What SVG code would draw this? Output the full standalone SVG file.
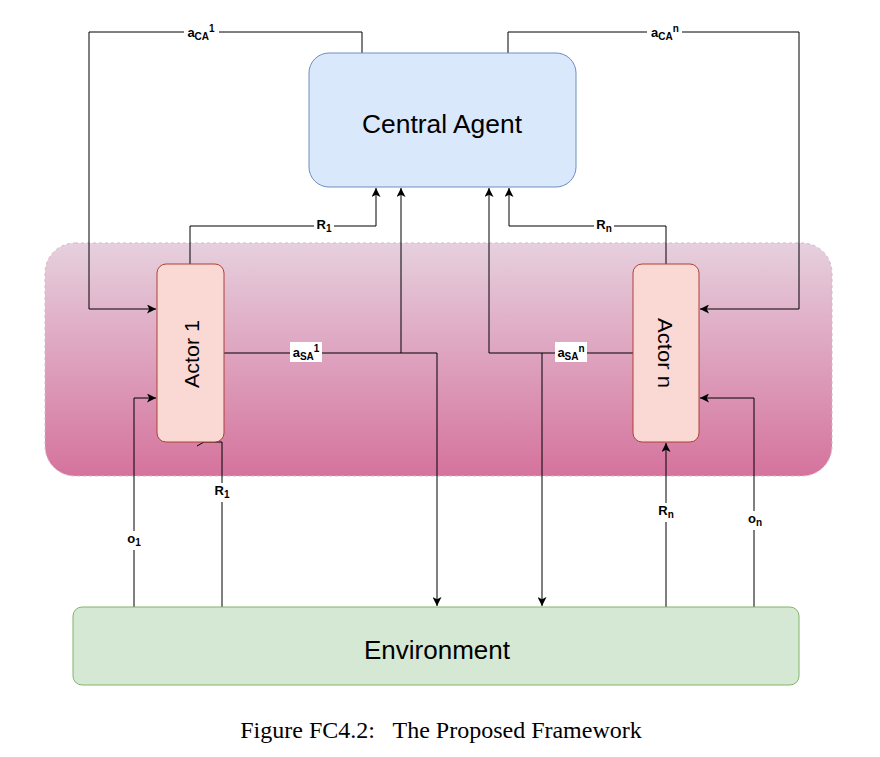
<svg xmlns="http://www.w3.org/2000/svg" width="880" height="757" viewBox="0 0 880 757">
<style>
.ln{fill:none;stroke:#000;stroke-width:1}
.lbl{font-family:"Liberation Sans",Arial,sans-serif;font-size:13px;font-weight:bold;fill:#000}
.bg{fill:#fff}
.node{font-family:"Liberation Sans",Arial,sans-serif;fill:#000}
</style>
<defs>
<linearGradient id="grad" x1="0" y1="0" x2="0" y2="1">
<stop offset="0" stop-color="#e6d0de"/>
<stop offset="1" stop-color="#d5739d"/>
</linearGradient>
<marker id="arr" viewBox="0 0 10 10" refX="10" refY="5" markerWidth="9" markerHeight="9" markerUnits="userSpaceOnUse" orient="auto">
<path d="M0,0 L10,5 L0,10 L2.5,5 z" fill="#000"/>
</marker>
</defs>
<rect width="880" height="757" fill="#fff"/>
<g id="container">
<rect x="45" y="243" width="787" height="233" rx="30" fill="url(#grad)" stroke="#d8b4c8" stroke-dasharray="3 3"/>
</g>
<g id="connectors">
<path class="ln" d="M362,53 V32 H89 V309 H156" marker-end="url(#arr)"/>
<path class="ln" d="M508,53 V32 H799 V309 H700" marker-end="url(#arr)"/>
<path class="ln" d="M190,264 V226 H376 V188" marker-end="url(#arr)"/>
<path class="ln" d="M666,264 V226 H509 V188" marker-end="url(#arr)"/>
<path class="ln" d="M224,353 H437 V606" marker-end="url(#arr)"/>
<path class="ln" d="M401,353 V188" marker-end="url(#arr)"/>
<path class="ln" d="M633,353 H489 V188" marker-end="url(#arr)"/>
<path class="ln" d="M542,353 V606" marker-end="url(#arr)"/>
<path class="ln" d="M134,607 V398 H156" marker-end="url(#arr)"/>
<path class="ln" d="M222,607 V442 H204 L197,446" />
<path class="ln" d="M666,607 V443" marker-end="url(#arr)"/>
<path class="ln" d="M754,607 V398 H700" marker-end="url(#arr)"/>
</g>
<g id="central-agent">
<rect x="309" y="53" width="267" height="134" rx="20" fill="#dae8fc" stroke="#6c8ebf"/>
<text class="node" x="442" y="133" font-size="25" text-anchor="middle" textLength="160" lengthAdjust="spacingAndGlyphs">Central Agent</text>
</g>
<g id="actor-1">
<rect x="157" y="264" width="67" height="178" rx="9" fill="#fad9d5" stroke="#ae4132"/>
<text class="node" transform="translate(199,354) rotate(-90)" font-size="21" text-anchor="middle" textLength="68" lengthAdjust="spacingAndGlyphs">Actor 1</text>
</g>
<g id="actor-n">
<rect x="633" y="264" width="66" height="178" rx="9" fill="#fad9d5" stroke="#ae4132"/>
<text class="node" transform="translate(658,353) rotate(90)" font-size="21" text-anchor="middle" textLength="70" lengthAdjust="spacingAndGlyphs">Actor n</text>
</g>
<g id="environment">
<rect x="73" y="607" width="726" height="78" rx="9" fill="#d5e8d4" stroke="#82b366"/>
<text class="node" x="437" y="659" font-size="25" text-anchor="middle" textLength="146" lengthAdjust="spacingAndGlyphs">Environment</text>
</g>
<g id="labels">
<rect class="bg" x="184" y="23" width="35" height="18"/>
<text class="lbl" x="201" y="37" text-anchor="middle">a<tspan font-size="10" dy="3">CA</tspan><tspan font-size="10" dy="-8">1</tspan></text>
<rect class="bg" x="647" y="23" width="35" height="18"/>
<text class="lbl" x="665" y="37" text-anchor="middle">a<tspan font-size="10" dy="3">CA</tspan><tspan font-size="10" dy="-8">n</tspan></text>
<rect class="bg" x="314" y="217" width="20" height="18"/>
<text class="lbl" x="324" y="229" text-anchor="middle">R<tspan font-size="10" dy="3">1</tspan></text>
<rect class="bg" x="594" y="217" width="20" height="18"/>
<text class="lbl" x="604" y="229" text-anchor="middle">R<tspan font-size="10" dy="3">n</tspan></text>
<rect class="bg" x="290" y="342" width="32" height="20"/>
<text class="lbl" x="306" y="357" text-anchor="middle">a<tspan font-size="10" dy="3">SA</tspan><tspan font-size="10" dy="-8">1</tspan></text>
<rect class="bg" x="555" y="342" width="32" height="20"/>
<text class="lbl" x="571" y="357" text-anchor="middle">a<tspan font-size="10" dy="3">SA</tspan><tspan font-size="10" dy="-8">n</tspan></text>
<rect class="bg" x="212" y="483" width="20" height="19"/>
<text class="lbl" x="222" y="495" text-anchor="middle">R<tspan font-size="10" dy="3">1</tspan></text>
<rect class="bg" x="125" y="531" width="18" height="19"/>
<text class="lbl" x="134" y="543" text-anchor="middle">o<tspan font-size="10" dy="3">1</tspan></text>
<rect class="bg" x="656" y="503" width="20" height="19"/>
<text class="lbl" x="666" y="515" text-anchor="middle">R<tspan font-size="10" dy="3">n</tspan></text>
<rect class="bg" x="745" y="511" width="19" height="19"/>
<text class="lbl" x="755" y="523" text-anchor="middle">o<tspan font-size="10" dy="3">n</tspan></text>
</g>
<text x="441" y="738" font-family="'Liberation Serif','Times New Roman',serif" font-size="24" text-anchor="middle" xml:space="preserve">Figure FC4.2:   The Proposed Framework</text>
</svg>
